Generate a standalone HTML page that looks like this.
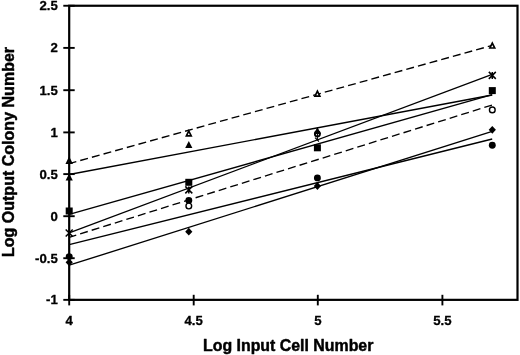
<!DOCTYPE html><html><head><meta charset="utf-8"><title>chart</title><style>html,body{margin:0;padding:0;background:#fff}svg{display:block}text{font-family:"Liberation Sans",Arial,Helvetica,sans-serif;font-weight:bold;fill:#000;stroke:#000;stroke-width:.3px;stroke-linejoin:round}.t{stroke-width:.45px}</style></head><body>
<svg width="520" height="355" viewBox="0 0 520 355">
<rect width="520" height="355" fill="#fff"/>
<line x1="69.2" y1="163.6" x2="492.2" y2="45.4" stroke="#000" stroke-width="1.35" stroke-dasharray="7.98 4.11" stroke-dashoffset="0.62"/>
<line x1="69.2" y1="174.5" x2="492.2" y2="95.0" stroke="#000" stroke-width="1.35"/>
<line x1="69.2" y1="214.3" x2="492.2" y2="94.6" stroke="#000" stroke-width="1.35"/>
<line x1="69.2" y1="232.8" x2="492.2" y2="74.4" stroke="#000" stroke-width="1.35"/>
<line x1="69.2" y1="237.3" x2="492.2" y2="105.0" stroke="#000" stroke-width="1.35" stroke-dasharray="7.99 4.11" stroke-dashoffset="0.63"/>
<line x1="69.2" y1="244.7" x2="492.2" y2="139.0" stroke="#000" stroke-width="1.35"/>
<line x1="69.2" y1="265.2" x2="492.2" y2="131.4" stroke="#000" stroke-width="1.35"/>
<polygon points="69.2,158.3 71.6,163.2 66.8,163.2" fill="#fff" stroke="#000" stroke-width="1.7" stroke-linejoin="miter"/>
<polygon points="69.2,173.4 72.8,180.4 65.6,180.4" fill="#000"/>
<rect x="65.70" y="207.50" width="7" height="7" fill="#000"/>
<path d="M65.7,229.5L72.7,236.5M72.7,229.5L65.7,236.5M69.2,229.5L69.2,236.5" stroke="#000" stroke-width="1.5" fill="none"/>
<circle cx="69.2" cy="256.6" r="3.45" fill="#000"/>
<polygon points="69.2,258.4 72.8,262.3 69.2,266.2 65.6,262.3" fill="#000"/>
<polygon points="188.8,131.0 191.2,135.9 186.4,135.9" fill="#fff" stroke="#000" stroke-width="1.7" stroke-linejoin="miter"/>
<polygon points="188.8,141.1 192.4,148.1 185.2,148.1" fill="#000"/>
<rect x="185.30" y="178.80" width="7" height="7" fill="#000"/>
<path d="M185.3,186.4L192.3,193.4M192.3,186.4L185.3,193.4M188.8,186.4L188.8,193.4" stroke="#000" stroke-width="1.5" fill="none"/>
<circle cx="188.8" cy="200.5" r="3.45" fill="#000"/>
<circle cx="188.8" cy="206.0" r="2.85" fill="#fff" stroke="#000" stroke-width="1.4"/>
<polygon points="188.8,227.8 192.4,231.7 188.8,235.6 185.2,231.7" fill="#000"/>
<polygon points="317.4,91.2 319.8,96.1 315.0,96.1" fill="#fff" stroke="#000" stroke-width="1.7" stroke-linejoin="miter"/>
<circle cx="317.4" cy="133.9" r="2.5" fill="#fff" stroke="#000" stroke-width="1.9"/><path d="M317.4,133L317.4,140.5M315.0,137.6L318.9,141.5" stroke="#000" stroke-width="1.1" fill="none"/>
<polygon points="317.4,127.1 321.0,134.1 313.8,134.1" fill="#000"/>
<rect x="313.90" y="144.30" width="7" height="7" fill="#000"/>
<circle cx="317.4" cy="177.9" r="3.45" fill="#000"/>
<polygon points="317.4,182.1 321.0,186 317.4,189.9 313.8,186" fill="#000"/>
<polygon points="492.3,43.1 494.7,48.0 489.9,48.0" fill="#fff" stroke="#000" stroke-width="1.7" stroke-linejoin="miter"/>
<path d="M488.8,71.9L495.8,78.9M495.8,71.9L488.8,78.9M492.3,71.9L492.3,78.9" stroke="#000" stroke-width="1.5" fill="none"/>
<rect x="488.80" y="87.10" width="7" height="7" fill="#000"/>
<circle cx="492.3" cy="109.9" r="2.85" fill="#fff" stroke="#000" stroke-width="1.4"/>
<polygon points="492.3,125.9 495.9,129.8 492.3,133.7 488.7,129.8" fill="#000"/>
<circle cx="492.3" cy="145.3" r="3.45" fill="#000"/>
<rect x="69.2" y="5.75" width="448.3" height="294.1" fill="none" stroke="#000" stroke-width="2.2"/>
<line x1="63.3" y1="5.75" x2="74.7" y2="5.75" stroke="#000" stroke-width="1.9"/>
<line x1="63.3" y1="47.90" x2="74.7" y2="47.90" stroke="#000" stroke-width="1.9"/>
<line x1="63.3" y1="90.20" x2="74.7" y2="90.20" stroke="#000" stroke-width="1.9"/>
<line x1="63.3" y1="132.40" x2="74.7" y2="132.40" stroke="#000" stroke-width="1.9"/>
<line x1="63.3" y1="174.10" x2="74.7" y2="174.10" stroke="#000" stroke-width="1.9"/>
<line x1="63.3" y1="216.20" x2="74.7" y2="216.20" stroke="#000" stroke-width="1.9"/>
<line x1="63.3" y1="258.20" x2="74.7" y2="258.20" stroke="#000" stroke-width="1.9"/>
<line x1="63.3" y1="299.85" x2="74.7" y2="299.85" stroke="#000" stroke-width="1.9"/>
<line x1="69.2" y1="294.8" x2="69.2" y2="305.4" stroke="#000" stroke-width="1.9"/>
<line x1="193.7" y1="294.8" x2="193.7" y2="305.4" stroke="#000" stroke-width="1.9"/>
<line x1="317.8" y1="294.8" x2="317.8" y2="305.4" stroke="#000" stroke-width="1.9"/>
<line x1="442.4" y1="294.8" x2="442.4" y2="305.4" stroke="#000" stroke-width="1.9"/>
<text x="57.8" y="10.25" font-size="13.2" text-anchor="end">2.5</text>
<text x="57.8" y="52.40" font-size="13.2" text-anchor="end">2</text>
<text x="57.8" y="94.70" font-size="13.2" text-anchor="end">1.5</text>
<text x="57.8" y="136.90" font-size="13.2" text-anchor="end">1</text>
<text x="57.8" y="178.60" font-size="13.2" text-anchor="end">0.5</text>
<text x="57.8" y="220.70" font-size="13.2" text-anchor="end">0</text>
<text x="57.8" y="262.70" font-size="13.2" text-anchor="end">-0.5</text>
<text x="57.8" y="304.35" font-size="13.2" text-anchor="end">-1</text>
<text x="69.2" y="324.5" font-size="13.2" text-anchor="middle">4</text>
<text x="193.7" y="324.5" font-size="13.2" text-anchor="middle">4.5</text>
<text x="317.8" y="324.5" font-size="13.2" text-anchor="middle">5</text>
<text x="442.4" y="324.5" font-size="13.2" text-anchor="middle">5.5</text>
<text x="288.2" y="350.8" font-size="15.9" class="t" text-anchor="middle">Log Input Cell Number</text>
<text transform="translate(13.6,152.0) rotate(-90)" font-size="16.05" class="t" text-anchor="middle">Log Output Colony Number</text>
</svg></body></html>
